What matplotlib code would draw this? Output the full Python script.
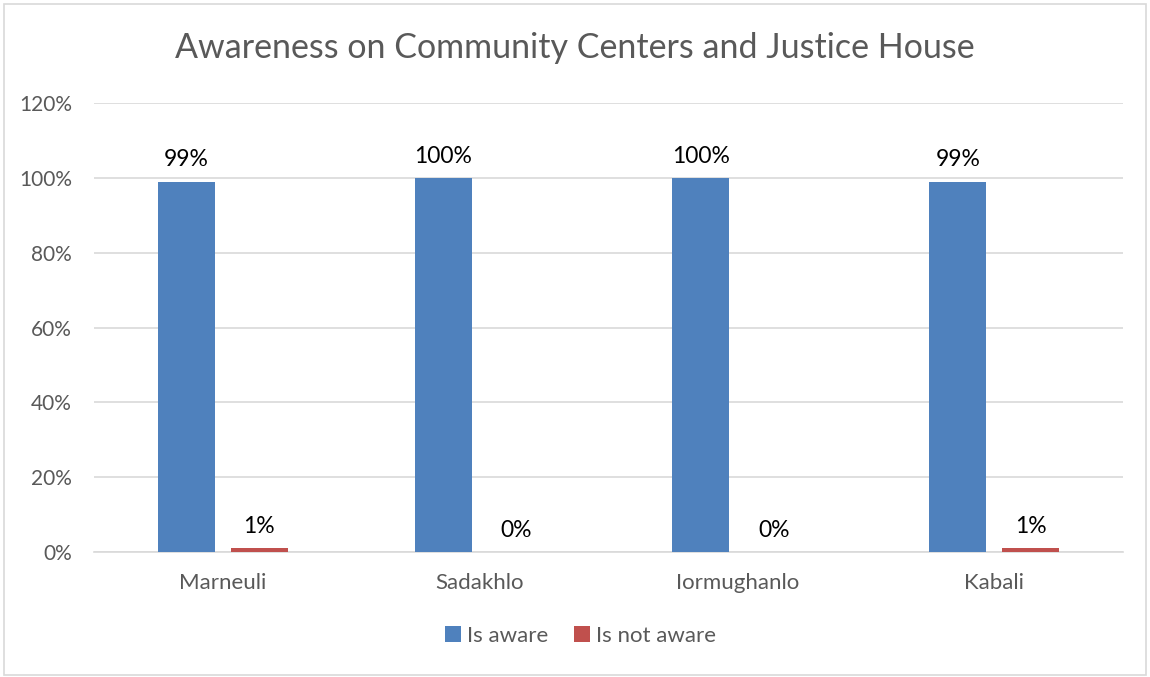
import matplotlib
matplotlib.use("Agg")
import matplotlib.pyplot as plt
import numpy as np
from matplotlib.patches import Rectangle

categories = ["Marneuli", "Sadakhlo", "Iormughanlo", "Kabali"]
is_aware = [99, 100, 100, 99]
is_not_aware = [1, 0, 0, 1]
series_names = ["Is aware", "Is not aware"]
yticks = [0, 20, 40, 60, 80, 100, 120]

blue = "#4F81BD"
red = "#C0504D"
grey = "#595959"

plt.rcParams['font.family'] = ['Lato', 'DejaVu Sans']

fig = plt.figure(figsize=(11.5, 6.77), dpi=100)
ax = fig.add_axes([94/1150, 1-552/677, (1123-94)/1150, (552-103)/677])

x = np.arange(len(categories))
w = 0.222
off = 0.142
b1 = ax.bar(x - off, is_aware, w, color=blue, label=series_names[0], zorder=3)
b2 = ax.bar(x + off, is_not_aware, w, color=red, label=series_names[1], zorder=3)

for rects, vals in [(b1, is_aware), (b2, is_not_aware)]:
    for r, v in zip(rects, vals):
        ax.annotate(f"{v}%", (r.get_x() + r.get_width()/2, v),
                    xytext=(0, 8), textcoords="offset points",
                    ha="center", va="bottom", fontsize=16.5, color="black")

ax.set_xlim(-0.5, len(categories) - 0.5)
ax.set_ylim(0, 120)
ax.set_yticks(yticks)
ax.set_yticklabels([f"{t}%" for t in yticks], fontsize=15, color=grey)
ax.set_xticks(x)
ax.set_xticklabels(categories, fontsize=16, color=grey)
ax.tick_params(axis="both", length=0)
ax.tick_params(axis="y", pad=16)
ax.tick_params(axis="x", pad=15)
ax.yaxis.grid(True, color="#D9D9D9", linewidth=1.2, zorder=0)
for s in ["top", "right", "left"]:
    ax.spines[s].set_visible(False)
ax.spines["bottom"].set_color("#D9D9D9")
ax.spines["bottom"].set_linewidth(1.2)

fig.text(0.5, 1-48/677, "Awareness on Community Centers and Justice House",
         ha="center", va="center", fontsize=24.5, color=grey)

leg = fig.legend(loc="center", bbox_to_anchor=(0.505, 1-636/677), ncol=2,
                 frameon=False, fontsize=16, handlelength=0.7, handleheight=0.7,
                 handletextpad=0.3, columnspacing=1.15)
for t in leg.get_texts():
    t.set_color(grey)

fig.patches.append(Rectangle((4/1150, 1-675/677), 1142/1150, 671/677,
                             transform=fig.transFigure, fill=False,
                             edgecolor="#D9D9D9", linewidth=1.2))

fig.savefig("out.png", dpi=100)
